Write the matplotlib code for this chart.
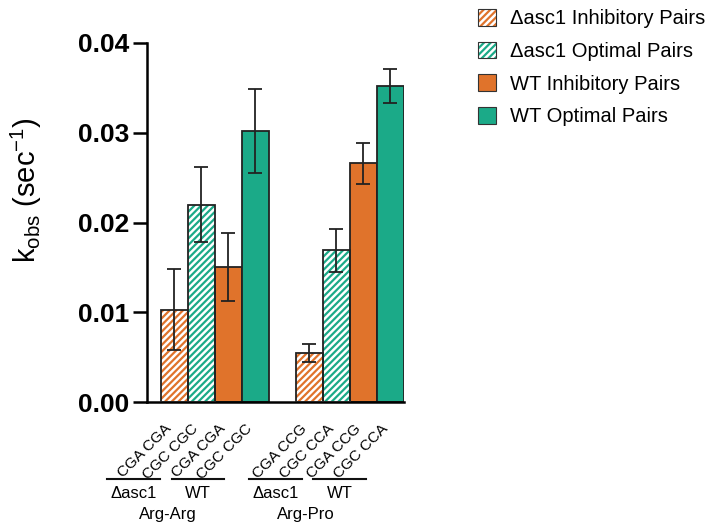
import matplotlib
matplotlib.use("Agg")
import matplotlib.pyplot as plt
from matplotlib.patches import Patch
from matplotlib.lines import Line2D

plt.rcParams['font.family'] = ['Liberation Sans', 'DejaVu Sans']
plt.rcParams['mathtext.fontset'] = 'custom'
plt.rcParams['mathtext.rm'] = 'Liberation Sans'
plt.rcParams['mathtext.it'] = 'Liberation Sans:italic'
plt.rcParams['mathtext.bf'] = 'Liberation Sans:bold'
plt.rcParams['hatch.linewidth'] = 1.6

# ---- data ----
tick_labels = ["CGA CGA", "CGC CGC", "CGA CGA", "CGC CGC",
               "CGA CCG", "CGC CCA", "CGA CCG", "CGC CCA"]
positions = [0, 1, 2, 3, 5, 6, 7, 8]
values = [0.0103, 0.0220, 0.0150, 0.0302, 0.0055, 0.0169, 0.0266, 0.0352]
errors = [0.0045, 0.0042, 0.0038, 0.0047, 0.0010, 0.0024, 0.0023, 0.0019]
series = ["Δasc1 Inhibitory Pairs", "Δasc1 Optimal Pairs",
          "WT Inhibitory Pairs", "WT Optimal Pairs"]
bar_series = [0, 1, 2, 3, 0, 1, 2, 3]
strain_labels = ["Δasc1", "WT", "Δasc1", "WT"]
pair_labels = ["Arg-Arg", "Arg-Pro"]
yticks = [0.00, 0.01, 0.02, 0.03, 0.04]

orange = "#E0732B"
teal = "#1BAA88"
colors = [orange, teal, orange, teal]
hatched = [True, True, False, False]

W, H = 709, 532
fig = plt.figure(figsize=(W / 100, H / 100), dpi=100)
ax = fig.add_axes([147 / W, 1 - 402 / H, (404 - 147) / W, (402 - 43) / H])

for p, v, e, s in zip(positions, values, errors, bar_series):
    if hatched[s]:
        ax.bar(p, v, width=1.0, color='white', edgecolor=colors[s],
               hatch='/////', linewidth=0, zorder=2)
        ax.bar(p, v, width=1.0, fill=False, edgecolor='#222222',
               linewidth=1.3, zorder=3)
    else:
        ax.bar(p, v, width=1.0, color=colors[s], edgecolor='#222222',
               linewidth=1.3, zorder=2)
    ax.errorbar(p, v, yerr=e, fmt='none', ecolor='#222222', elinewidth=1.3,
                capsize=5, capthick=1.3, zorder=4)

ax.set_xlim(-1, 8.5)
ax.set_ylim(0, 0.04)
ax.set_yticks(yticks)
ax.set_yticklabels([f"{t:.2f}" for t in yticks], fontsize=19, fontweight='bold')
ax.tick_params(axis='y', length=10, width=1.8, pad=3)
ax.spines['top'].set_visible(False)
ax.spines['right'].set_visible(False)
ax.spines['left'].set_linewidth(1.8)
ax.spines['bottom'].set_linewidth(1.8)

ax.set_xticks(positions)
ax.set_xticklabels(tick_labels, rotation=45, ha='right', fontsize=11)
ax.tick_params(axis='x', length=0, pad=14)

fig.text(26 / W, 1 - 190 / H, r'$\mathregular{k_{obs}\ (sec^{-1})}$',
         rotation=90, ha='center', va='center', fontsize=21)

# group annotations
line_spans = [(107, 160), (172, 224), (249, 302), (313, 366)]
for (x0, x1), lab in zip(line_spans, strain_labels):
    fig.add_artist(Line2D([x0 / W, x1 / W], [1 - 479 / H, 1 - 479 / H],
                          color='#111111', linewidth=1.5))
    fig.text((x0 + x1) / 2 / W, 1 - 494 / H, lab, ha='center', va='center',
             fontsize=12)
for xc, lab in zip([168, 306], pair_labels):
    fig.text(xc / W, 1 - 515 / H, lab, ha='center', va='center', fontsize=12)

# legend
handles = []
for s in range(4):
    if hatched[s]:
        handles.append((Patch(facecolor='white', edgecolor=colors[s],
                              hatch='/////', linewidth=0),
                        Patch(fill=False, edgecolor='#333333', linewidth=0.8)))
    else:
        handles.append(Patch(facecolor=colors[s], edgecolor='#333333',
                             linewidth=0.8))
fig.legend(handles, series, loc='upper left',
           bbox_to_anchor=(478 / W, 1 - 9 / H), frameon=False,
           fontsize=14.5, handlelength=0.9, handleheight=0.9,
           handletextpad=0.7, labelspacing=0.66, borderpad=0,
           borderaxespad=0)

fig.savefig("out.png", dpi=100)
